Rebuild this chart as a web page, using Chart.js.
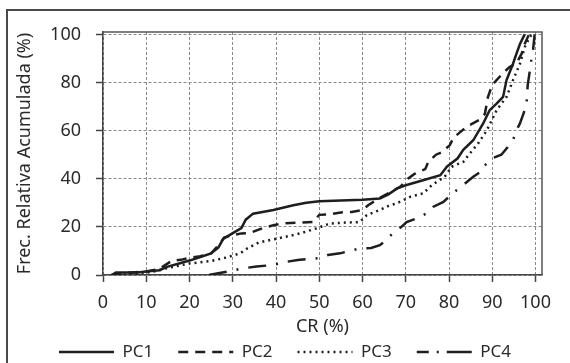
<!DOCTYPE html>
<html>
<head>
<meta charset="utf-8">
<script src="https://cdn.jsdelivr.net/npm/chart.js@4/dist/chart.umd.min.js"></script>
<style>
  html, body { margin: 0; padding: 0; background: #fff; }
  #wrap { position: relative; width: 570px; height: 363px; overflow: hidden; }
  #frame { position: absolute; left: 6px; top: 9px; width: 620px; height: 420px; border: 2px solid #4a4a4a; }
  canvas { position: absolute; left: 0; top: 0; }
</style>
</head>
<body>
<div id="wrap">
  <div id="frame"></div>
  <canvas id="cdf-chart" width="570" height="363"></canvas>
</div>
<script>
// curves: CR (%) vs cumulative relative frequency (%)
const pc1X = [2, 3, 5, 8, 10, 13, 15, 18, 20, 22.5, 25, 26.7, 27.8, 30, 32, 33, 34.7, 39.4, 44, 47, 50, 55, 60, 64, 66, 68, 70, 74, 78, 79.5, 82, 83.3, 85.6, 87.9, 89.4, 91, 92.5, 93.3, 94.8, 95.6, 96.4, 97.5];
const pc1Y = [0, 1, 1, 1, 1.5, 2, 3.5, 5, 6, 7.5, 9, 11.5, 15, 17.4, 19.5, 23, 25.5, 27, 29, 30, 30.7, 31, 31.3, 31.8, 33.5, 36, 37.3, 39.4, 41.5, 45, 48.5, 52, 56, 63, 68.5, 71.2, 74, 81, 87.8, 92, 96, 100];

const pc2X = [2, 5, 10, 13, 16, 18, 20, 22.5, 25, 27, 28, 30, 32, 34, 37, 39.4, 42, 45, 48.6, 50, 52.5, 55, 57.5, 60, 61.3, 64, 67, 68.7, 70.5, 72, 74.5, 75.2, 77, 78.3, 80.2, 81, 83, 84, 87, 88.3, 89, 90, 92.5, 94, 95.6, 96.8, 97.5, 98.5];
const pc2Y = [0, 0.8, 1.5, 2.5, 6, 6.3, 7.2, 7.8, 9, 13, 15.6, 16.6, 17.3, 17.5, 19.5, 20.7, 21.5, 21.7, 22, 25, 25.3, 26, 26.2, 27, 29, 32, 35, 36.6, 40, 42, 44, 47, 50, 51, 54, 57, 60, 61.5, 64.5, 67, 74, 79, 84, 86.4, 88, 92, 96, 100];

const pc3X = [2, 8, 12, 14.7, 20, 25, 28.6, 31.7, 33.3, 36, 39.4, 44, 45.6, 49.4, 52.5, 56, 59.4, 61, 64, 66.3, 67.8, 71, 74, 76, 79, 80.6, 83.3, 84.8, 86.7, 88.7, 91, 93.3, 94.8, 96.4, 97.5, 98.7, 99.2];
const pc3Y = [0, 0.5, 1.5, 2.8, 4.8, 5.8, 7.3, 9, 11, 13.5, 14.8, 16.6, 17.3, 19.4, 21.4, 21.8, 22, 24.9, 27, 29, 29.7, 32.5, 33.9, 37.3, 40.8, 45, 47, 50.5, 54.6, 60, 68.5, 74, 81, 87.8, 94.7, 99, 100];

const pc4X = [24.5, 26, 29.8, 32.4, 35.5, 39.4, 42.5, 45, 49.7, 52, 54.8, 57, 59.4, 62, 64, 65.5, 67, 69, 70.2, 72.5, 74.8, 76.3, 78.7, 80.3, 81.8, 83.7, 85.6, 87.9, 88.3, 89.8, 92.1, 93.5, 94.8, 95.6, 96.4, 97.2, 97.9, 98.2, 98.7, 99, 99.4, 99.8];
const pc4Y = [0, 0.5, 1.8, 2.8, 3.5, 4.2, 5.5, 6.2, 7, 8.3, 9, 10, 11, 11.2, 12.4, 14.5, 17.4, 20, 22, 23.5, 25.6, 28.3, 30.4, 33, 35.3, 38, 40.8, 43.6, 45.6, 48.4, 50, 53, 56, 60.2, 63, 67, 70.5, 79, 85, 89, 93, 100];

const seriesNames = ["PC1", "PC2", "PC3", "PC4"];
const xTicks = [0, 10, 20, 30, 40, 50, 60, 70, 80, 90, 100];
const yTicks = [0, 20, 40, 60, 80, 100];

const toPoints = (xs, ys) => xs.map((x, i) => ({ x: x, y: ys[i] }));

const ink = "#1e1e1e";
const dashes = [[], [10, 7], [2, 4], [18, 10, 2, 10]];
const legendDashes = [[], [10, 7], [2, 4], [12, 8, 2, 8, 25]];
const allSeries = [[pc1X, pc1Y], [pc2X, pc2Y], [pc3X, pc3Y], [pc4X, pc4Y]];

// top and right edge of the plot box
const plotFrame = {
    id: "plotFrame",
    afterDraw(chart) {
        const { ctx, chartArea: a } = chart;
        ctx.save();
        ctx.strokeStyle = "#555";
        ctx.lineWidth = 1.5;
        ctx.beginPath();
        ctx.moveTo(a.left, a.top);
        ctx.lineTo(a.right, a.top);
        ctx.lineTo(a.right, a.bottom);
        ctx.stroke();
        ctx.restore();
    },
};

const font = "'Noto Sans', 'Open Sans', sans-serif";

new Chart(document.getElementById("cdf-chart"), {
    type: "line",
    data: {
        datasets: allSeries.map((s, i) => ({
            label: seriesNames[i],
            data: toPoints(s[0], s[1]),
            borderColor: ink,
            backgroundColor: ink,
            borderWidth: 2.5,
            borderDash: dashes[i],
            pointRadius: 0,
            tension: 0,
            fill: false,
        })),
    },
    options: {
        responsive: false,
        animation: false,
        layout: { padding: { top: 32, right: 0, left: 0, bottom: 0 } },
        plugins: {
            tooltip: { enabled: false },
            legend: {
                position: "bottom",
                maxHeight: 44.5,
                labels: {
                    color: "#2a2a2a",
                    font: { family: font, size: 17 },
                    usePointStyle: true,
                    pointStyle: "line",
                    pointStyleWidth: 55,
                    padding: 25,
                    generateLabels(chart) {
                        const items = Chart.defaults.plugins.legend.labels.generateLabels(chart);
                        items.forEach((it, i) => { it.lineDash = legendDashes[i]; it.lineWidth = 2.5; });
                        return items;
                    },
                },
            },
        },
        scales: {
            x: {
                type: "linear",
                min: 0,
                max: 101.5,
                afterBuildTicks: (s) => { s.ticks = xTicks.map((v) => ({ value: v })); },
                afterFit: (s) => { s.height = 43.5; },
                ticks: { color: "#2a2a2a", font: { family: font, size: 18 }, padding: 10, maxRotation: 0 },
                grid: { color: "#8a8a8a", lineWidth: 1, tickLength: 7, tickColor: "#444", tickWidth: 1.5, tickBorderDash: [] },
                border: { color: "#444", width: 1.5, dash: [3, 2] },
                title: { display: true, text: "CR (%)", color: "#2a2a2a", font: { family: font, size: 18 }, padding: { top: 0, bottom: -19.3 } },
            },
            y: {
                min: 0,
                max: 101,
                afterBuildTicks: (s) => { s.ticks = yTicks.map((v) => ({ value: v })); },
                afterFit: (s) => { s.width = 103; },
                ticks: { color: "#2a2a2a", font: { family: font, size: 18 }, padding: 15 },
                grid: { color: "#8a8a8a", lineWidth: 1, tickLength: 7, tickColor: "#444", tickWidth: 1.5, tickBorderDash: [] },
                border: { color: "#444", width: 1.5, dash: [3, 2] },
                title: { display: true, text: "Frec. Relativa Acumulada (%)", color: "#2a2a2a", font: { family: font, size: 18 }, padding: { top: 14, bottom: 0 } },
            },
            // empty strip on the right so the legend stays centred on the page
            yRight: {
                position: "right",
                min: 0,
                max: 101,
                afterFit: (s) => { s.width = 28; },
                ticks: { display: false },
                grid: { display: false, drawTicks: false },
                border: { display: false },
            },
        },
    },
    plugins: [plotFrame],
});
</script>
</body>
</html>
